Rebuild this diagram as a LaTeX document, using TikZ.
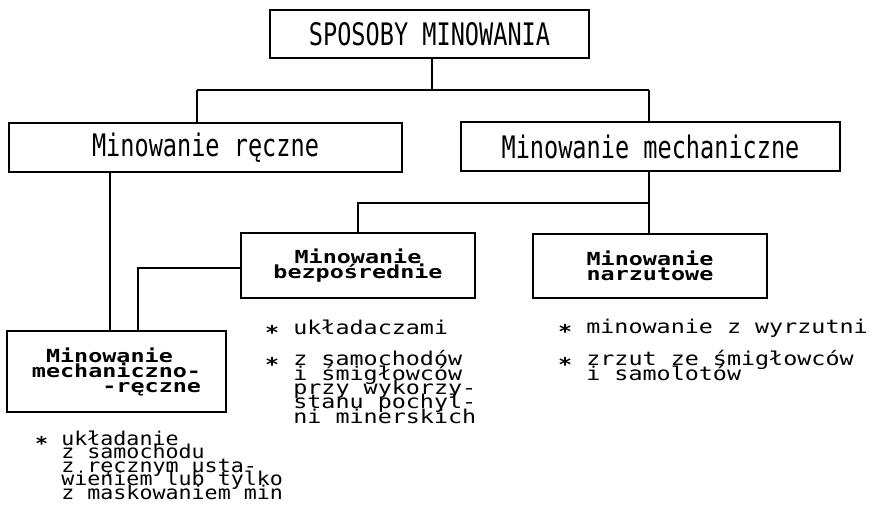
\documentclass[tikz,border=0pt]{standalone}
\usepackage{fontspec}
\newfontfamily\narrowfont{DejaVu Sans Mono}[FakeStretch=0.76]
\newfontfamily\widefont{DejaVu Sans Mono}[FakeStretch=1.23]
\newfontfamily\boxfont{DejaVu Sans Mono}[FakeStretch=1.3]
\newfontfamily\wideleftfont{DejaVu Sans Mono}[FakeStretch=1.14]
\newcommand\bul{\raisebox{-0.3em}{\bfseries *}}
\newcommand\tightls{\lineskiplimit=-50pt\relax}
\newcommand\fntsmall{\boxfont\bfseries\fontsize{18}{15}\selectfont\tightls}
\newcommand\fntlst{\widefont\fontsize{19}{14.3}\selectfont\tightls}
\newcommand\fntlstl{\wideleftfont\fontsize{19}{13.5}\selectfont\tightls}
\begin{document}
\begin{tikzpicture}[x=1pt,y=-1pt,
  box/.style={draw, line width=1.2pt, inner sep=0pt, anchor=center},
  big/.style={font=\narrowfont\fontsize{31}{31}\selectfont},
  small/.style={font=\fntsmall, align=center},
  lst/.style={font=\fntlst, align=left, anchor=base west, inner sep=0pt},
  lstl/.style={font=\fntlstl, align=left, anchor=base west, inner sep=0pt},
  wire/.style={line width=1.2pt}]
\useasboundingbox (0,0) rectangle (874,515);
% boxes
\node[box,big,minimum width=319pt,minimum height=48pt] (top) at (429.5,34) {SPOSOBY MINOWANIA};
\node[box,big,minimum width=393pt,minimum height=49pt] (mr) at (205.5,147.5) {Minowanie ręczne};
\node[box,big,minimum width=379pt,minimum height=49pt] (mm) at (650.5,146.5) {Minowanie mechaniczne};
\node[box,small,minimum width=234pt,minimum height=65pt] (bezp) at (358,265.5) {Minowanie\\bezpośrednie};
\node[box,small,minimum width=234pt,minimum height=64pt] (narz) at (650,266) {Minowanie\\narzutowe};
\node[box,small,align=left,minimum width=219pt,minimum height=81pt] (mrm) at (116.5,371.5) {\hphantom{m}Minowanie\\mechaniczno-\\\hphantom{mecha}-ręczne};
% connectors
\coordinate (j1) at (432,90);
\coordinate (j0) at (197,90);
\coordinate (j2) at (649,90);
\coordinate (j3) at (649,203);
\coordinate (j4) at (110,250);
\coordinate (j5) at (138,268);
\draw[wire] (top.south -| j1) -- (j1);
\draw[wire] (j0) -- (j2);
\draw[wire] (j0) -- (j0 |- mr.north);
\draw[wire] (j2) -- (j2 |- mm.north);
\draw[wire] (j3 |- mm.south) -- (j3 |- narz.north);
\draw[wire] (j3) -| (bezp.north);
\draw[wire] (j4 |- mr.south) -- (j4 |- mrm.north);
\draw[wire] (bezp.west |- j5) -- (j5) -- (j5 |- mrm.north);
% lists (anchor base = baseline of last line)
\node[lst] (b1) at (265,334) {\bul\ układaczami};
\node[lst] (b2) at (265,423) {\bul\ z samochodów\\\hphantom{**}i śmigłowców\\\hphantom{**}przy wykorzy-\\\hphantom{**}stanu pochyl-\\\hphantom{**}ni minerskich};
\node[lst] (r1) at (558,333) {\bul\ minowanie z wyrzutni};
\node[lst] (r2) at (558,380) {\bul\ zrzut ze śmigłowców\\\hphantom{**}i samolotów};
\node[lstl] (l1) at (35,499) {\bul\ układanie\\\hphantom{**}z samochodu\\\hphantom{**}z ręcznym usta-\\\hphantom{**}wieniem lub tylko\\\hphantom{**}z maskowaniem min};
\end{tikzpicture}
\end{document}
